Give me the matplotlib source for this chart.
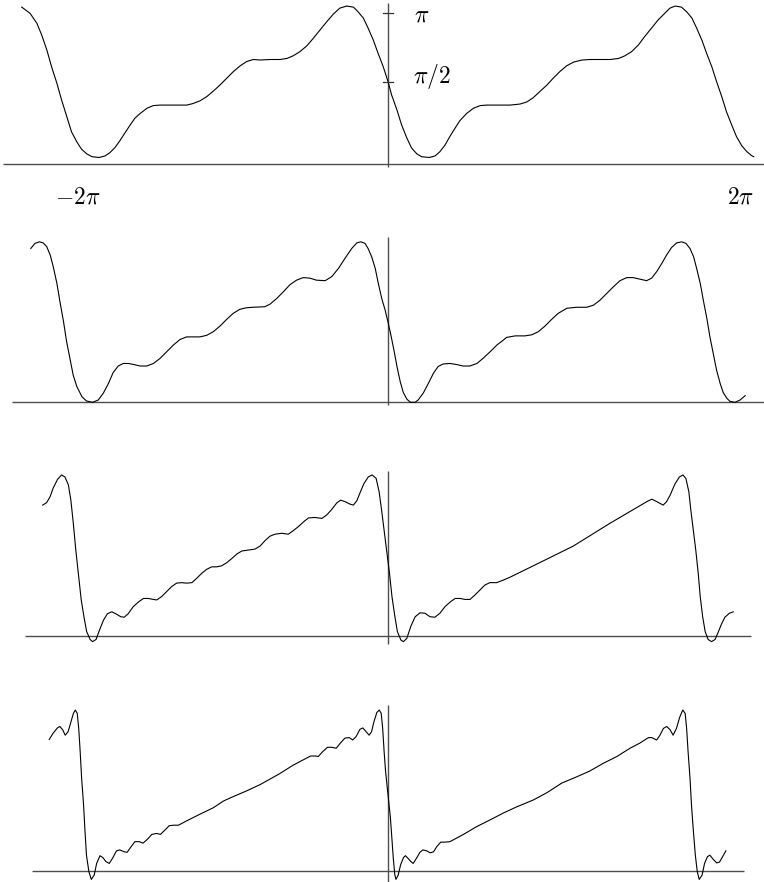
import matplotlib
matplotlib.use("Agg")
import matplotlib.pyplot as plt

plt.rcParams['mathtext.fontset'] = 'cm'
plt.rcParams['font.family'] = ['DejaVu Sans']

# ---- data (x in radians, y in the same units) ----
curve1 = [(-6.99,3.00),(-6.83,2.88),(-6.70,2.69),(-6.61,2.47),(-6.51,2.18),(-6.42,1.86),(-6.32,1.55),(-6.23,1.23),
          (-6.13,0.91),(-6.04,0.62),(-5.94,0.43),(-5.85,0.29),(-5.75,0.20),(-5.65,0.145),(-5.51,0.13),(-5.40,0.16),
          (-5.31,0.22),(-5.21,0.32),(-5.11,0.46),(-5.02,0.60),(-4.92,0.75),(-4.83,0.88),(-4.73,0.97),(-4.60,1.07),
          (-4.48,1.12),(-4.35,1.13),(-4.22,1.13),(-4.10,1.13),(-3.97,1.13),(-3.84,1.13),(-3.72,1.16),(-3.59,1.21),
          (-3.46,1.29),(-3.33,1.40),(-3.21,1.51),(-3.08,1.64),(-2.95,1.77),(-2.82,1.88),(-2.70,1.96),(-2.57,2.00),
          (-2.44,1.99),(-2.25,2.00),(-2.06,2.00),(-1.93,2.02),(-1.81,2.07),(-1.68,2.15),(-1.55,2.26),(-1.43,2.40),
          (-1.30,2.56),(-1.17,2.72),(-1.04,2.87),(-0.92,2.98),(-0.79,3.02),(-0.66,3.00),(-0.57,2.91),(-0.47,2.79),
          (-0.38,2.60),(-0.28,2.37),(-0.19,2.12),(-0.09,1.86),(0.00,1.58),(0.07,1.32),(0.17,1.04),(0.26,0.75),
          (0.36,0.50),(0.45,0.31),(0.55,0.20),(0.64,0.145),(0.79,0.13),(0.90,0.16),(0.99,0.24),(1.09,0.37),
          (1.18,0.53),(1.28,0.69),(1.37,0.83),(1.50,0.97),(1.63,1.07),(1.76,1.12),(1.88,1.13),(2.01,1.13),
          (2.14,1.13),(2.33,1.13),(2.52,1.15),(2.65,1.19),(2.77,1.27),(2.90,1.39),(3.03,1.51),(3.15,1.64),
          (3.28,1.77),(3.41,1.88),(3.54,1.95),(3.70,1.99),(3.85,2.00),(4.05,2.00),(4.24,2.00),(4.40,2.02),
          (4.52,2.07),(4.65,2.15),(4.78,2.28),(4.90,2.44),(5.03,2.60),(5.16,2.76),(5.29,2.89),(5.38,2.98),
          (5.48,3.02),(5.60,3.00),(5.70,2.91),(5.80,2.79),(5.89,2.60),(5.99,2.37),(6.08,2.12),(6.18,1.86),
          (6.27,1.58),(6.37,1.29),(6.46,1.00),(6.56,0.75),(6.65,0.53),(6.75,0.355),(6.85,0.24),(6.94,0.165),
          (6.98,0.145)]

curve2 = [(-6.99,3.01),(-6.91,3.11),(-6.82,3.14),(-6.75,3.12),(-6.68,3.05),(-6.61,2.88),(-6.55,2.65),(-6.48,2.33),
          (-6.42,1.97),(-6.35,1.58),(-6.29,1.19),(-6.22,0.83),(-6.16,0.53),(-6.09,0.31),(-5.99,0.11),(-5.90,0.025),
          (-5.78,0.0),(-5.67,0.045),(-5.57,0.18),(-5.47,0.37),(-5.38,0.58),(-5.28,0.71),(-5.18,0.76),(-5.08,0.76),
          (-4.98,0.74),(-4.85,0.71),(-4.72,0.71),(-4.59,0.76),(-4.46,0.86),(-4.33,0.99),(-4.20,1.12),(-4.07,1.23),
          (-3.94,1.28),(-3.81,1.28),(-3.68,1.28),(-3.55,1.31),(-3.42,1.38),(-3.29,1.49),(-3.16,1.62),(-3.03,1.74),
          (-2.90,1.82),(-2.77,1.85),(-2.64,1.86),(-2.41,1.87),(-2.31,1.92),(-2.18,2.03),(-2.05,2.16),(-1.92,2.30),
          (-1.79,2.39),(-1.66,2.44),(-1.53,2.43),(-1.40,2.39),(-1.23,2.38),(-1.10,2.46),(-0.97,2.62),(-0.84,2.82),
          (-0.71,3.01),(-0.61,3.12),(-0.53,3.14),(-0.45,3.11),(-0.39,3.01),(-0.32,2.85),(-0.25,2.62),(-0.19,2.33),
          (-0.12,2.02),(-0.06,1.82),(0.00,1.57),(0.06,1.30),(0.12,1.00),(0.18,0.68),(0.24,0.40),(0.30,0.19),
          (0.37,0.06),(0.44,0.0),(0.53,0.0),(0.59,0.045),(0.69,0.18),(0.79,0.37),(0.89,0.57),(0.98,0.70),
          (1.08,0.75),(1.21,0.76),(1.34,0.74),(1.47,0.71),(1.60,0.71),(1.74,0.76),(1.86,0.86),(2.00,0.99),
          (2.13,1.12),(2.26,1.22),(2.32,1.27),(2.49,1.30),(2.68,1.30),(2.81,1.32),(2.94,1.38),(3.07,1.49),
          (3.20,1.62),(3.33,1.74),(3.50,1.84),(3.69,1.86),(3.89,1.86),(4.02,1.90),(4.15,2.00),(4.28,2.13),
          (4.41,2.26),(4.54,2.38),(4.67,2.44),(4.80,2.44),(4.93,2.41),(5.06,2.38),(5.16,2.43),(5.26,2.56),
          (5.36,2.72),(5.45,2.88),(5.55,3.03),(5.65,3.12),(5.75,3.14),(5.83,3.11),(5.91,3.01),(5.98,2.85),
          (6.04,2.62),(6.11,2.33),(6.17,2.00),(6.24,1.64),(6.30,1.28),(6.37,0.93),(6.43,0.63),(6.50,0.37),
          (6.56,0.19),(6.63,0.08),(6.69,0.02),(6.79,0.0),(6.89,0.045),(6.99,0.13)]

curve3 = [(-6.99,2.65),(-6.91,2.70),(-6.84,2.82),(-6.78,2.99),(-6.69,3.17),(-6.61,3.26),(-6.54,3.22),(-6.47,3.06),
          (-6.42,2.75),(-6.37,2.28),(-6.32,1.74),(-6.26,1.20),(-6.21,0.73),(-6.15,0.36),(-6.10,0.09),(-6.03,-0.07),
          (-5.98,-0.115),(-5.91,-0.07),(-5.84,0.12),(-5.76,0.32),(-5.68,0.45),(-5.59,0.49),(-5.51,0.45),(-5.41,0.39),
          (-5.34,0.38),(-5.26,0.45),(-5.16,0.59),(-5.05,0.69),(-4.95,0.76),(-4.85,0.76),(-4.75,0.74),(-4.68,0.73),
          (-4.58,0.80),(-4.48,0.90),(-4.38,1.00),(-4.28,1.07),(-4.18,1.08),(-4.07,1.07),(-3.97,1.08),(-3.87,1.17),
          (-3.77,1.27),(-3.67,1.35),(-3.57,1.40),(-3.47,1.40),(-3.37,1.42),(-3.27,1.48),(-3.16,1.57),(-3.06,1.66),
          (-2.96,1.72),(-2.83,1.74),(-2.69,1.76),(-2.59,1.82),(-2.49,1.93),(-2.39,2.02),(-2.29,2.06),(-2.15,2.08),
          (-2.02,2.06),(-1.92,2.13),(-1.82,2.21),(-1.71,2.31),(-1.61,2.39),(-1.48,2.40),(-1.34,2.38),(-1.24,2.45),
          (-1.14,2.56),(-1.04,2.69),(-0.96,2.75),(-0.87,2.72),(-0.77,2.67),(-0.70,2.65),(-0.63,2.74),(-0.57,2.89),
          (-0.49,3.08),(-0.40,3.22),(-0.32,3.26),(-0.24,3.19),(-0.18,2.92),(-0.13,2.55),(-0.08,2.15),(-0.03,1.74),
          (0.03,1.27),(0.08,0.80),(0.14,0.39),(0.19,0.09),(0.26,-0.08),(0.31,-0.115),(0.38,-0.05),(0.46,0.19),
          (0.55,0.39),(0.65,0.47),(0.75,0.46),(0.85,0.39),(0.95,0.38),(1.05,0.46),(1.15,0.59),(1.26,0.69),
          (1.36,0.76),(1.46,0.76),(1.56,0.74),(1.66,0.74),(1.76,0.83),(1.86,0.93),(1.96,1.03),(2.06,1.08),
          (2.20,1.08),(2.33,1.13),(2.47,1.19),(2.98,1.44),(3.75,1.82),(4.49,2.28),(5.24,2.72),(5.34,2.77),
          (5.44,2.72),(5.57,2.65),(5.64,2.72),(5.71,2.85),(5.81,3.08),(5.90,3.22),(5.97,3.26),(6.03,3.19),
          (6.09,2.92),(6.13,2.55),(6.18,2.15),(6.23,1.74),(6.28,1.27),(6.32,0.80),(6.37,0.39),(6.42,0.09),
          (6.48,-0.07),(6.55,-0.115),(6.62,-0.07),(6.69,0.09),(6.75,0.24),(6.82,0.38),(6.91,0.46),(6.99,0.49)]

curve4 = [(-7.00,2.71),(-6.92,2.84),(-6.83,2.95),(-6.78,2.98),(-6.72,2.91),(-6.67,2.80),(-6.61,2.87),(-6.55,3.08),
          (-6.50,3.25),(-6.46,3.32),(-6.42,3.25),(-6.39,2.94),(-6.36,2.46),(-6.33,1.91),(-6.29,1.36),(-6.26,0.81),
          (-6.23,0.32),(-6.18,-0.02),(-6.13,-0.18),(-6.07,-0.09),(-6.02,0.15),(-5.95,0.31),(-5.89,0.27),(-5.83,0.19),
          (-5.76,0.15),(-5.69,0.26),(-5.61,0.41),(-5.54,0.43),(-5.45,0.39),(-5.39,0.38),(-5.32,0.48),(-5.23,0.60),
          (-5.14,0.60),(-5.06,0.57),(-4.97,0.65),(-4.88,0.75),(-4.78,0.77),(-4.70,0.75),(-4.61,0.84),(-4.52,0.93),
          (-4.43,0.94),(-4.33,0.94),(-4.16,1.03),(-3.88,1.17),(-3.61,1.30),(-3.40,1.44),(-3.20,1.53),(-2.92,1.65),
          (-2.64,1.78),(-2.23,2.01),(-1.96,2.18),(-1.75,2.29),(-1.60,2.37),(-1.51,2.37),(-1.44,2.36),(-1.35,2.46),
          (-1.25,2.55),(-1.16,2.55),(-1.07,2.53),(-0.99,2.63),(-0.89,2.74),(-0.80,2.75),(-0.73,2.70),(-0.66,2.77),
          (-0.58,2.92),(-0.52,2.95),(-0.45,2.87),(-0.39,2.80),(-0.34,2.87),(-0.29,3.08),(-0.23,3.27),(-0.18,3.32),
          (-0.14,3.25),(-0.11,2.94),(-0.08,2.46),(-0.05,2.05),(0.00,1.57),(0.05,1.09),(0.08,0.68),(0.11,0.25),
          (0.14,-0.08),(0.165,-0.18),(0.21,-0.09),(0.26,0.12),(0.32,0.27),(0.36,0.31),(0.41,0.26),(0.47,0.19),
          (0.52,0.15),(0.59,0.26),(0.66,0.38),(0.72,0.43),(0.80,0.41),(0.87,0.37),(0.94,0.39),(1.01,0.50),
          (1.09,0.59),(1.18,0.59),(1.28,0.60),(1.56,0.75),(1.83,0.91),(2.11,1.05),(2.38,1.19),(2.66,1.32),
          (3.00,1.46),(3.28,1.61),(3.59,1.81),(3.90,1.94),(4.17,2.06),(4.45,2.22),(4.73,2.36),(5.00,2.53),
          (5.21,2.64),(5.38,2.75),(5.45,2.75),(5.55,2.70),(5.62,2.80),(5.69,2.94),(5.76,2.98),(5.83,2.91),
          (5.89,2.80),(5.96,2.94),(6.03,3.18),(6.09,3.32),(6.14,3.25),(6.17,2.94),(6.20,2.46),(6.24,1.91),
          (6.27,1.36),(6.31,0.81),(6.35,0.32),(6.39,-0.02),(6.43,-0.18),(6.49,-0.09),(6.54,0.15),(6.60,0.29),
          (6.65,0.32),(6.72,0.235),(6.79,0.16),(6.85,0.18),(6.92,0.30),(6.98,0.41)]

curves = [curve1, curve2, curve3, curve4]
# vertical axis extent per panel
vaxis = [(-0.05, 3.08), (-0.05, 3.24), (-0.17, 3.35), (-0.23, 3.42)]
haxis = (-7.35, 7.35)
ytick_vals = [2.88, 1.576]
ytick_labels = [r'$\pi$', r'$\pi/2$']
xtick_labels = [(-5.93, r'$-2\pi$'), (6.72, r'$2\pi$')]

# ---- layout (pixels of the 764x882 picture) ----
W, H = 764, 882
ox = 388.0
scales = [52.4, 51.1, 49.4, 48.4]      # pixels per unit
zero_rows = [164.3, 402.3, 636.0, 870.7]
XL, XR, YB, YT = -7.6, 7.6, -0.5, 3.6

fig = plt.figure(figsize=(W / 100, H / 100), dpi=100)
fig.patch.set_facecolor('white')

axes = []
for s, oy in zip(scales, zero_rows):
    left = ox + XL * s
    width = (XR - XL) * s
    top = oy - YT * s
    height = (YT - YB) * s
    ax = fig.add_axes([left / W, 1 - (top + height) / H, width / W, height / H])
    ax.set_xlim(XL, XR)
    ax.set_ylim(YB, YT)
    ax.axis('off')
    axes.append(ax)

for ax, c, (vb, vt) in zip(axes, curves, vaxis):
    ax.plot(haxis, [0, 0], color='0.3', lw=1.0, solid_capstyle='butt', zorder=1)
    ax.plot([0, 0], [vb, vt], color='0.3', lw=1.0, solid_capstyle='butt', zorder=1)
    xs, ys = zip(*c)
    ax.plot(xs, ys, color='black', lw=0.8, zorder=2, clip_on=False,
            solid_joinstyle='round')

ax0 = axes[0]
for yv in ytick_vals:
    ax0.plot([-0.1, 0.1], [yv, yv], color='0.2', lw=0.9)
ax0.text(0.50, 2.85, ytick_labels[0], fontsize=17, ha='left', va='center')
ax0.text(0.48, 1.67, ytick_labels[1], fontsize=17, ha='left', va='center')
for xv, lab in xtick_labels:
    ax0.text(xv, -0.605, lab, fontsize=17, ha='center', va='center')

fig.savefig('out.png', dpi=100, facecolor='white')
